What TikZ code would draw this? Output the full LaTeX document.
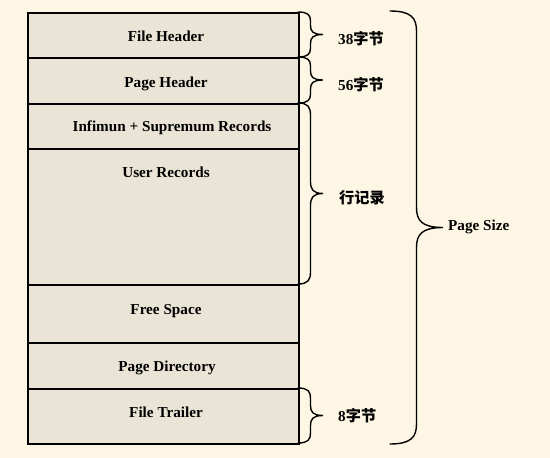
\documentclass[tikz,border=0pt]{standalone}
\usepackage{fontspec}
\setmainfont{Liberation Serif}
\newfontfamily\cjk{Noto Sans CJK SC}
\definecolor{bgcol}{HTML}{FDF6E4}
\definecolor{boxcol}{HTML}{E9E4D5}
\newcommand\mybrace[5]{%
  \pgfmathsetmacro\ym{(#2+#3)/2}%
  \draw[bracestyle] (#1,#2) .. controls ({#1+0.4*#4},#2) and ({#1+0.5*#4},{#2+0.35*#5}) .. ({#1+0.5*#4},{#2+#5})
    -- ({#1+0.5*#4},{\ym-#5}) .. controls ({#1+0.5*#4},{\ym-0.35*#5}) and ({#1+0.6*#4},\ym) .. ({#1+#4},\ym)
    .. controls ({#1+0.6*#4},\ym) and ({#1+0.5*#4},{\ym+0.35*#5}) .. ({#1+0.5*#4},{\ym+#5})
    -- ({#1+0.5*#4},{#3-#5}) .. controls ({#1+0.5*#4},{#3-0.35*#5}) and ({#1+0.4*#4},#3) .. (#1,#3);}
\begin{document}
\begin{tikzpicture}[x=1pt,y=-1pt,
  row/.style={draw=black, line width=2.2pt, fill=boxcol, anchor=north west,
    minimum width=271pt, inner sep=0pt},
  txt/.style={anchor=base, inner sep=0pt, font=\fontsize{15.2}{18}\selectfont\bfseries},
  lbl/.style={anchor=base west, inner sep=0pt, font=\fontsize{15.2}{18}\selectfont\bfseries},
  bracestyle/.style={line width=1.4pt, line cap=round}]
\fill[bgcol] (0,0) rectangle (550,458);
\useasboundingbox (0,0) rectangle (550,458);
\node[row, minimum height=45pt] (fh) at (27,12) {};
\node[row, minimum height=46pt] (ph) at (27,57) {};
\node[row, minimum height=45pt] (inf) at (27,103) {};
\node[row, minimum height=136pt] (ur) at (27,148) {};
\node[row, minimum height=58pt] (fs) at (27,284) {};
\node[row, minimum height=46pt] (pd) at (27,342) {};
\node[row, minimum height=55pt] (ft) at (27,388) {};
\node[txt] (tfh) at (166,41) {File Header};
\node[txt] (tph) at (166,87) {Page Header};
\node[txt] (tinf) at (172,131.5) {Infimun + Supremum Records};
\node[txt] (tur) at (166,177) {User Records};
\node[txt] (tfs) at (166,314) {Free Space};
\node[txt] (tpd) at (167,371) {Page Directory};
\node[txt] (tft) at (166,417) {File Trailer};
\mybrace{298}{12}{57}{25}{9}
\mybrace{298}{57}{103}{25}{9}
\mybrace{298}{103}{284}{25}{12}
\mybrace{298}{388}{443}{25}{10}
\mybrace{390}{11}{444}{53}{20}
\node[lbl] (l1) at (338,44) {38{\cjk\bfseries 字节}};
\node[lbl] (l2) at (338,90) {56{\cjk\bfseries 字节}};
\node[lbl] (l3) at (339,203) {\cjk\bfseries 行记录};
\node[lbl] (l4) at (338,421) {8{\cjk\bfseries 字节}};
\node[lbl] (l5) at (448,230) {Page Size};
\end{tikzpicture}
\end{document}
